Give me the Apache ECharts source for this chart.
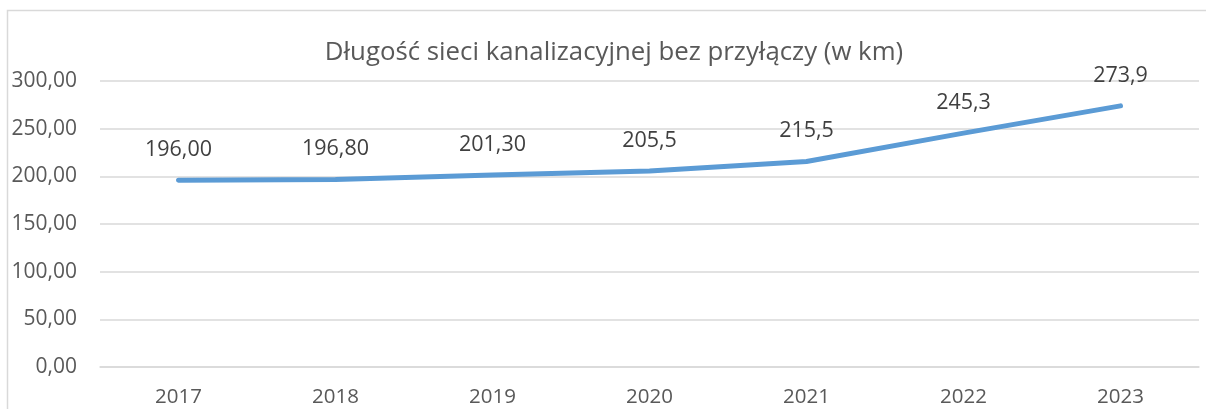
<!DOCTYPE html>
<html>
<head>
<meta charset="utf-8">
<script src="https://cdn.jsdelivr.net/npm/echarts@6/dist/echarts.min.js"></script>
<style>
    html, body { margin: 0; padding: 0; background: #fff; }
    #chart { width: 1206px; height: 409px; }
</style>
</head>
<body>
<div id="chart"></div>
<script>
// Chart data
const chartTitle = 'Długość sieci kanalizacyjnej bez przyłączy (w km)';
const years = ['2017', '2018', '2019', '2020', '2021', '2022', '2023'];
const lengthKm = [196.0, 196.8, 201.3, 205.5, 215.5, 245.3, 273.9];
// labels as printed in the source (mixed decimal places)
const pointLabels = ['196,00', '196,80', '201,30', '205,5', '215,5', '245,3', '273,9'];

const font = '"Open Sans", "DejaVu Sans", sans-serif';

const chart = echarts.init(document.getElementById('chart'));
chart.setOption({
    animation: false,
    textStyle: { fontFamily: font },
    title: {
        text: chartTitle,
        left: 609,
        top: 35,
        textAlign: 'center',
        textStyle: { fontFamily: font, fontSize: 25.8, fontWeight: 'normal', color: '#595959' }
    },
    graphic: [{
        type: 'rect',
        silent: true,
        shape: { x: 7.5, y: 10.5, width: 1210, height: 430 },
        style: { fill: 'none', stroke: '#d9d9d9', lineWidth: 1.5 }
    }],
    grid: { left: 100, right: 7, top: 81, bottom: 42 },
    xAxis: {
        type: 'category',
        data: years,
        boundaryGap: true,
        axisLine: { show: true, lineStyle: { color: '#d9d9d9', width: 1.5 } },
        axisTick: { show: false },
        axisLabel: { margin: 20, fontSize: 20.5, color: '#595959', fontFamily: font }
    },
    yAxis: {
        type: 'value',
        min: 0,
        max: 300,
        interval: 50,
        axisLine: { show: false },
        axisTick: { show: false },
        splitLine: { lineStyle: { color: '#d9d9d9', width: 1.5 } },
        axisLabel: {
            margin: 23,
            fontSize: 21,
            color: '#595959',
            fontFamily: font,
            formatter: v => v.toFixed(2).replace('.', ',')
        }
    },
    series: [{
        type: 'line',
        data: lengthKm,
        showSymbol: true,
        symbol: 'circle',
        symbolSize: 1,
        itemStyle: { color: '#5b9bd5' },
        lineStyle: { color: '#5b9bd5', width: 5, cap: 'round', join: 'round' },
        label: {
            show: true,
            position: 'top',
            distance: 19,
            fontSize: 21.5,
            color: '#404040',
            fontFamily: font,
            formatter: p => pointLabels[p.dataIndex]
        }
    }]
});
</script>
</body>
</html>
